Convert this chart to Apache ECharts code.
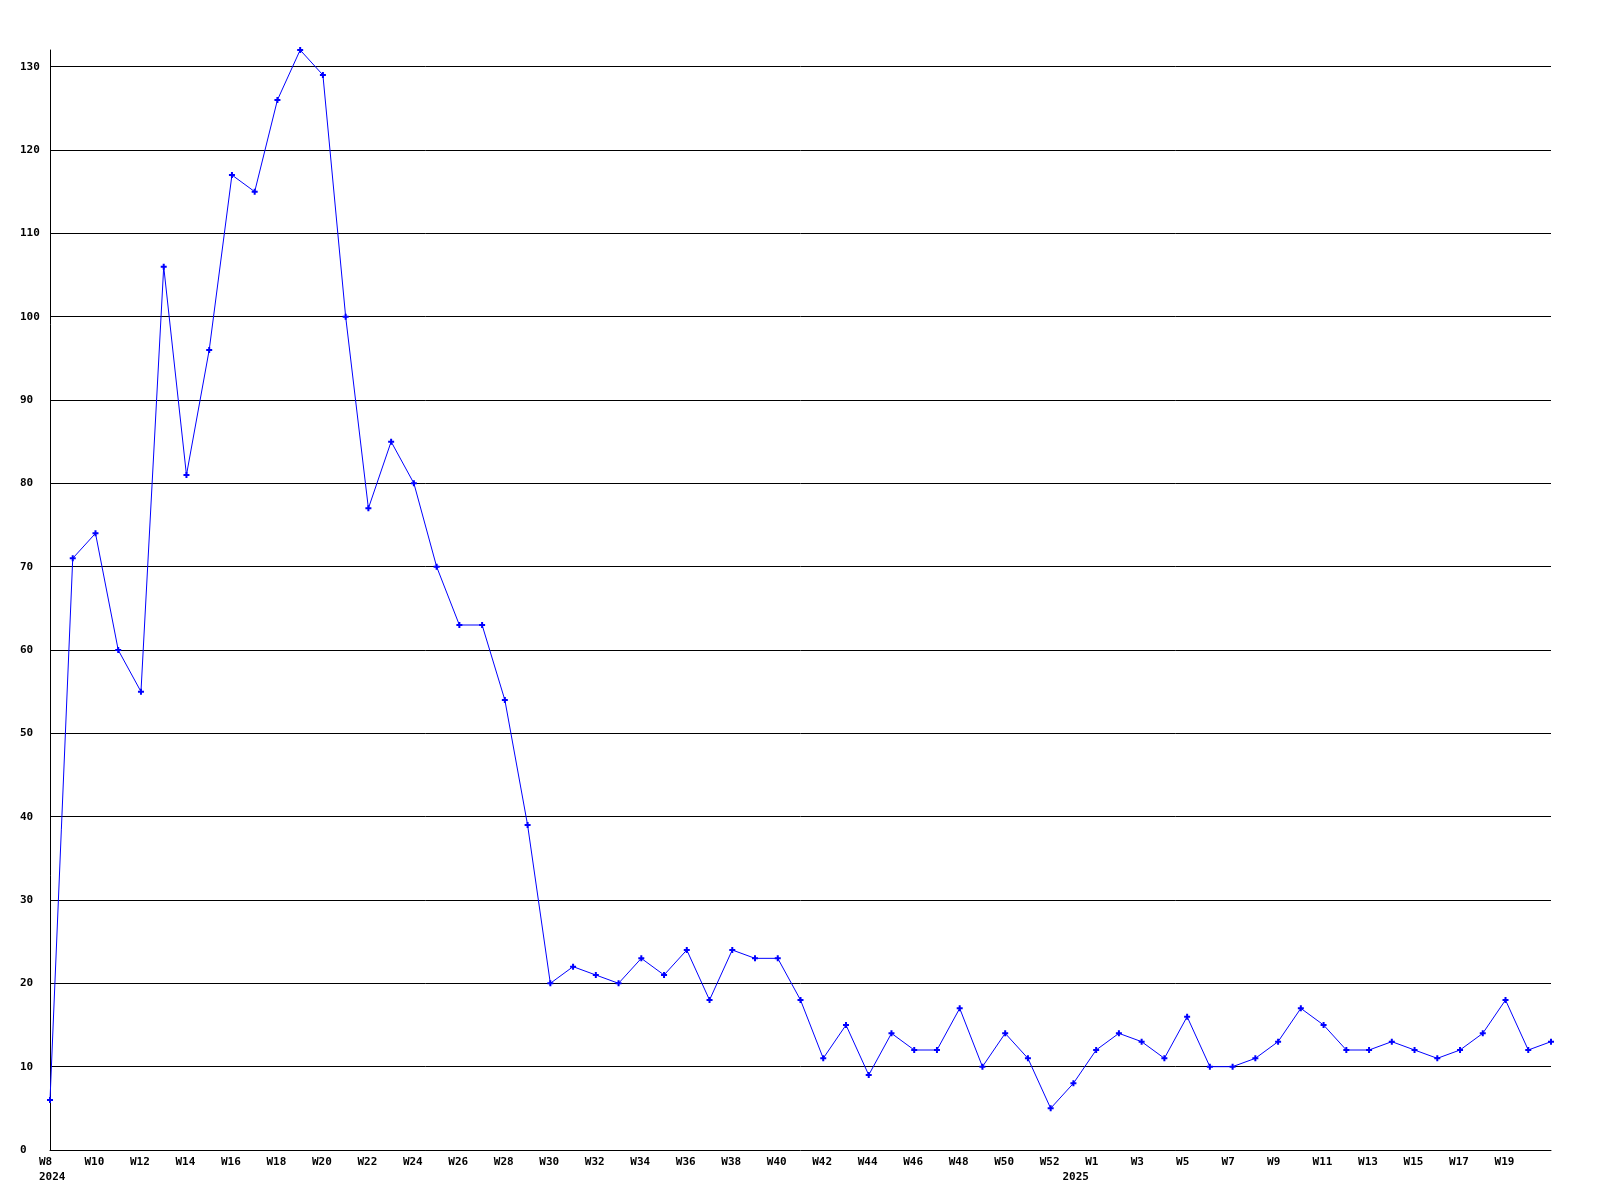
<!DOCTYPE html>
<html>
<head>
<meta charset="utf-8">
<script src="https://cdn.jsdelivr.net/npm/echarts@6/dist/echarts.min.js"></script>
<style>
html,body{margin:0;padding:0;background:#fff;}
#chart{width:1600px;height:1200px;}
</style>
</head>
<body>
<div id="chart"></div>
<script>
// Week categories (2024 W8 .. 2025 W21)
const weeks = [
  'W8','W9','W10','W11','W12','W13','W14','W15','W16','W17','W18','W19','W20','W21','W22','W23','W24','W25','W26','W27',
  'W28','W29','W30','W31','W32','W33','W34','W35','W36','W37','W38','W39','W40','W41','W42','W43','W44','W45','W46','W47',
  'W48','W49','W50','W51','W52','W53',
  'W1','W2','W3','W4','W5','W6','W7','W8','W9','W10','W11','W12','W13','W14','W15','W16','W17','W18','W19','W20','W21'
];
// Year markers: category index -> year text
const yearMarks = { 0: '2024', 45: '2025' };
// Weekly values
const values = [
  6, 71, 74, 60, 55, 106, 81, 96, 117, 115, 126, 132, 129, 100, 77, 85, 80, 70, 63, 63,
  54, 39, 20, 22, 21, 20, 23, 21, 24, 18, 24, 23, 23, 18, 11, 15, 9, 14, 12, 12,
  17, 10, 14, 11, 5, 8,
  12, 14, 13, 11, 16, 10, 10, 11, 13, 17, 15, 12, 12, 13, 12, 11, 12, 14, 18, 12, 13
];
// Week labels shown on the axis (every other category, last one omitted)
const shownWeekIdx = [];
for (let i = 0; i < 65; i += 2) shownWeekIdx.push(i);

const font = 'DejaVu Sans Mono';
const chart = echarts.init(document.getElementById('chart'), null, {renderer: 'canvas'});
chart.setOption({
  animation: false,
  backgroundColor: '#ffffff',
  grid: { left: 50, right: 49, top: 50, bottom: 50, containLabel: false },
  xAxis: {
    type: 'category',
    data: weeks,
    boundaryGap: false,
    axisLine: { show: true, lineStyle: { color: '#000', width: 1 } },
    axisTick: { show: false },
    splitLine: { show: false },
    axisLabel: {
      interval: function (idx) { return shownWeekIdx.indexOf(idx) >= 0 || yearMarks[idx] !== undefined; },
      formatter: function (val, idx) {
        const top = shownWeekIdx.indexOf(idx) >= 0 ? val : '';
        return yearMarks[idx] !== undefined ? top + '\n' + yearMarks[idx] : top;
      },
      color: '#000',
      fontFamily: font,
      fontWeight: 'bold',
      fontSize: 11,
      lineHeight: 15,
      align: 'left',
      verticalAlign: 'top',
      padding: [0, 0, 0, -11],
      margin: 5,
      hideOverlap: false
    }
  },
  yAxis: {
    type: 'value',
    min: 0,
    max: 132,
    interval: 10,
    axisLine: { show: true, lineStyle: { color: '#000', width: 1 } },
    axisTick: { show: false },
    splitLine: { show: true, showMinLine: false, showMaxLine: false, lineStyle: { color: '#000', width: 1 } },
    axisLabel: {
      showMaxLabel: false,
      color: '#000',
      fontFamily: font,
      fontWeight: 'bold',
      fontSize: 11,
      align: 'left',
      margin: 30
    }
  },
  series: [{
    type: 'line',
    data: values,
    lineStyle: { color: '#0000ff', width: 1 },
    itemStyle: { color: '#0000ff' },
    symbol: 'path://M2,0h2v2h2v2h-2v2h-2v-2h-2v-2h2z',
    symbolSize: 6,
    showAllSymbol: true,
    emphasis: { disabled: true }
  }]
});
</script>
</body>
</html>
